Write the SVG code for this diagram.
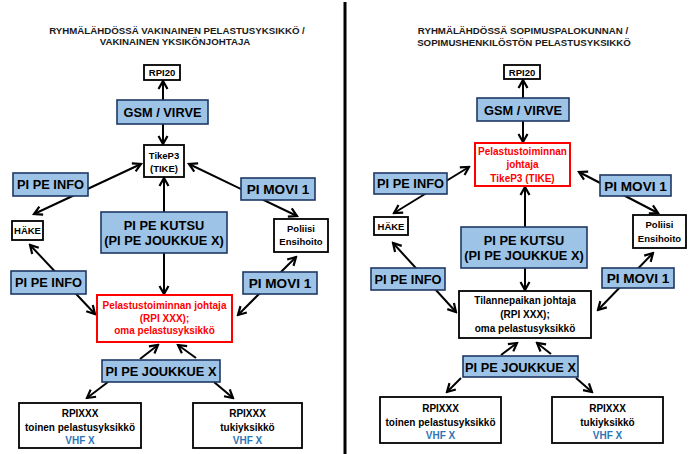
<svg xmlns="http://www.w3.org/2000/svg" width="693" height="454" viewBox="0 0 693 454">
<style>
text{font-family:"Liberation Sans",Arial,sans-serif;font-weight:bold;text-anchor:middle;fill:#000}
.title{font-size:9.7px;fill:#1a1a1a}
.blue{fill:#9DC3E6;stroke:#1F3864;stroke-width:1.6}
.white{fill:#fff;stroke:#000;stroke-width:1.8}
.redbox{fill:#fff;stroke:#FF0000;stroke-width:2}
.big{font-size:12.8px}
.mv{font-size:13.6px}
.sm{font-size:9.5px}
.md{font-size:10px}
.red{fill:#FF0000}
.vhf{fill:#2E75B6}
.c line{stroke:#000;stroke-width:2}
.two{marker-start:url(#ah);marker-end:url(#ah)}
.one{marker-end:url(#ah)}
</style>
<defs>
<marker id="ah" markerUnits="userSpaceOnUse" markerWidth="13" markerHeight="13" viewBox="0 0 13 13" refX="11" refY="6.5" orient="auto-start-reverse">
<path d="M3,2 L11,6.5 L3,11" fill="none" stroke="#000" stroke-width="2.2"/>
</marker>
</defs>
<rect width="693" height="454" fill="#fff"/>
<line x1="345" y1="2" x2="345" y2="454" stroke="#000" stroke-width="3"/>

<g id="title-left">
<text class="title" x="177" y="34">RYHMÄLÄHDÖSSÄ VAKINAINEN PELASTUSYKSIKKÖ /</text>
<text class="title" x="175" y="45">VAKINAINEN YKSIKÖNJOHTAJA</text>
</g>
<g id="title-right">
<text class="title" x="523" y="34">RYHMÄLÄHDÖSSÄ SOPIMUSPALOKUNNAN /</text>
<text class="title" x="524" y="45.5">SOPIMUSHENKILÖSTÖN PELASTUSYKSIKKÖ</text>
</g>

<g id="connectors" class="c">
<!-- left -->
<line class="one" x1="163" y1="100" x2="163" y2="81"/>
<line class="one" x1="163" y1="124" x2="163" y2="144"/>
<line class="two" x1="164" y1="178" x2="164" y2="294"/>
<line class="two" x1="34" y1="214" x2="141" y2="164"/>
<line class="two" x1="189" y1="164" x2="297" y2="216"/>
<line class="two" x1="30" y1="245" x2="95" y2="314"/>
<line class="two" x1="296" y1="257" x2="238" y2="315"/>
<line class="one" x1="140" y1="359" x2="158" y2="345"/>
<line class="one" x1="196" y1="358" x2="178" y2="345"/>
<line class="one" x1="108" y1="382" x2="87" y2="398"/>
<line class="one" x1="214" y1="382" x2="233" y2="398"/>
<!-- right -->
<line class="one" x1="523" y1="98" x2="523" y2="80"/>
<line class="one" x1="523" y1="121" x2="523" y2="142"/>
<line class="two" x1="525" y1="187" x2="525" y2="290"/>
<line class="two" x1="394" y1="213" x2="469" y2="167"/>
<line class="two" x1="579" y1="172" x2="658" y2="213"/>
<line class="two" x1="393" y1="243" x2="456" y2="312"/>
<line class="two" x1="653" y1="253" x2="598" y2="310"/>
<line class="one" x1="501" y1="355" x2="517" y2="343"/>
<line class="one" x1="551" y1="354" x2="537" y2="343"/>
<line class="one" x1="461" y1="378" x2="447" y2="392"/>
<line class="one" x1="576" y1="378" x2="592" y2="392"/>
</g>

<!-- LEFT PANEL NODES -->
<g id="l-rpi20"><rect class="white" x="144" y="65" width="36" height="15"/><text class="sm" x="162" y="76">RPI20</text></g>
<g id="l-gsm"><rect class="blue" x="117" y="100" width="91" height="24"/><text class="big" x="162.5" y="117">GSM / VIRVE</text></g>
<g id="l-tike"><rect class="white" x="144" y="145" width="40" height="32"/><text class="sm" x="164" y="159">TikeP3</text><text class="sm" x="164" y="171.5">(TIKE)</text></g>
<g id="l-info1"><rect class="blue" x="13" y="173" width="75" height="23"/><text class="big" x="50.5" y="189">PI PE INFO</text></g>
<g id="l-movi1"><rect class="blue" x="241" y="178" width="74" height="22"/><text class="mv" x="278" y="194">PI MOVI 1</text></g>
<g id="l-hake"><rect class="white" x="12" y="221" width="31" height="19"/><text class="sm" x="27.5" y="234">HÄKE</text></g>
<g id="l-kutsu"><rect class="blue" x="101" y="212" width="126" height="41"/><text class="big" x="164" y="230">PI PE KUTSU</text><text class="big" x="164" y="245">(PI PE JOUKKUE X)</text></g>
<g id="l-poliisi"><rect class="white" x="274" y="219" width="54" height="33"/><text class="sm" x="301" y="232">Poliisi</text><text class="sm" x="301" y="245">Ensihoito</text></g>
<g id="l-info2"><rect class="blue" x="11" y="271" width="75" height="23"/><text class="big" x="48.5" y="287">PI PE INFO</text></g>
<g id="l-movi2"><rect class="blue" x="243" y="272" width="74" height="22"/><text class="mv" x="280" y="288">PI MOVI 1</text></g>
<g id="l-johtaja"><rect class="redbox" x="97" y="295" width="135" height="47"/><text class="md red" x="164.5" y="309">Pelastustoiminnan johtaja</text><text class="md red" x="164.5" y="321.5">(RPI XXX);</text><text class="md red" x="164.5" y="334">oma pelastusyksikkö</text></g>
<g id="l-joukkue"><rect class="blue" x="102" y="360" width="118" height="22"/><text class="big" x="161" y="375.5">PI PE JOUKKUE X</text></g>
<g id="l-rpixxx1"><rect class="white" x="19" y="403" width="122" height="45"/><text class="md" x="80" y="417">RPIXXX</text><text class="md" x="80" y="430.5">toinen pelastusyksikkö</text><text class="md vhf" x="80" y="444">VHF X</text></g>
<g id="l-rpixxx2"><rect class="white" x="193" y="403" width="109" height="45"/><text class="md" x="247.5" y="417">RPIXXX</text><text class="md" x="247.5" y="430.5">tukiyksikkö</text><text class="md vhf" x="247.5" y="444">VHF X</text></g>

<!-- RIGHT PANEL NODES -->
<g id="r-rpi20"><rect class="white" x="504" y="65" width="36" height="14"/><text class="sm" x="522" y="75.5">RPI20</text></g>
<g id="r-gsm"><rect class="blue" x="477" y="98" width="92" height="23"/><text class="big" x="523" y="114.5">GSM / VIRVE</text></g>
<g id="r-johtaja"><rect class="redbox" x="475" y="143" width="95" height="43"/><text class="md red" x="522.5" y="155">Pelastustoiminnan</text><text class="md red" x="522.5" y="168">johtaja</text><text class="md red" x="522.5" y="181.5">TikeP3 (TIKE)</text></g>
<g id="r-info1"><rect class="blue" x="374" y="173" width="73" height="21"/><text class="big" x="410.5" y="188">PI PE INFO</text></g>
<g id="r-movi1"><rect class="blue" x="600" y="175" width="71" height="21"/><text class="mv" x="635.5" y="190.5">PI MOVI 1</text></g>
<g id="r-hake"><rect class="white" x="374" y="217" width="34" height="18"/><text class="sm" x="391" y="229.5">HÄKE</text></g>
<g id="r-kutsu"><rect class="blue" x="461" y="227" width="126" height="41"/><text class="big" x="524" y="244.5">PI PE KUTSU</text><text class="big" x="524" y="260">(PI PE JOUKKUE X)</text></g>
<g id="r-poliisi"><rect class="white" x="633" y="215" width="53" height="33"/><text class="sm" x="659.5" y="228">Poliisi</text><text class="sm" x="659.5" y="241.5">Ensihoito</text></g>
<g id="r-info2"><rect class="blue" x="371" y="268" width="74" height="22"/><text class="big" x="408" y="283.5">PI PE INFO</text></g>
<g id="r-movi2"><rect class="blue" x="602" y="268" width="72" height="20"/><text class="mv" x="638" y="283">PI MOVI 1</text></g>
<g id="r-tilanne"><rect class="white" x="459" y="291" width="132" height="47"/><text class="md" x="525" y="304">Tilannepaikan johtaja</text><text class="md" x="525" y="318">(RPI XXX);</text><text class="md" x="525" y="332">oma pelastusyksikkö</text></g>
<g id="r-joukkue"><rect class="blue" x="463" y="356" width="115" height="21"/><text class="big" x="520.5" y="371.5">PI PE JOUKKUE X</text></g>
<g id="r-rpixxx1"><rect class="white" x="380" y="397" width="121" height="46"/><text class="md" x="440.5" y="412">RPIXXX</text><text class="md" x="440.5" y="425.5">toinen pelastusyksikkö</text><text class="md vhf" x="440.5" y="439">VHF X</text></g>
<g id="r-rpixxx2"><rect class="white" x="552" y="397" width="111" height="46"/><text class="md" x="607.5" y="412">RPIXXX</text><text class="md" x="607.5" y="425.5">tukiyksikkö</text><text class="md vhf" x="607.5" y="439">VHF X</text></g>
</svg>
